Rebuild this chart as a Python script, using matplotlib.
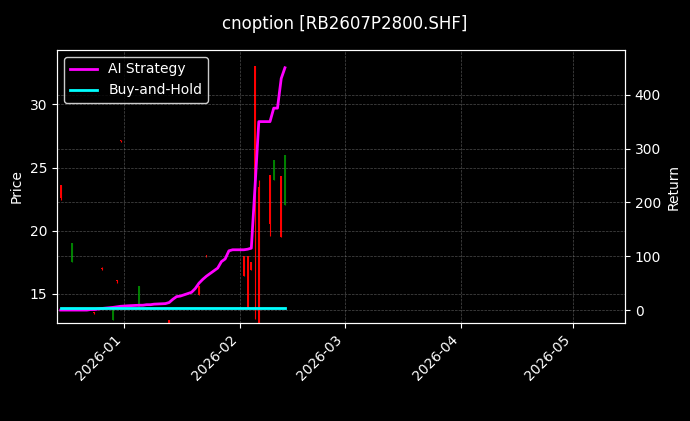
import matplotlib
matplotlib.use("Agg")
import matplotlib.pyplot as plt
import matplotlib.dates as mdates
from matplotlib.ticker import MultipleLocator
import numpy as np
import pandas as pd

ret_dates = ["2025-12-15","2025-12-16","2025-12-17","2025-12-18","2025-12-19","2025-12-22","2025-12-23","2025-12-24","2025-12-25","2025-12-26",
             "2025-12-29","2025-12-30","2025-12-31","2026-01-02","2026-01-05","2026-01-06","2026-01-07","2026-01-08","2026-01-09","2026-01-12",
             "2026-01-13","2026-01-14","2026-01-15","2026-01-16","2026-01-19","2026-01-20","2026-01-21","2026-01-22","2026-01-23","2026-01-26",
             "2026-01-27","2026-01-28","2026-01-29","2026-01-30","2026-02-02","2026-02-03","2026-02-04","2026-02-05","2026-02-06","2026-02-09",
             "2026-02-10","2026-02-11","2026-02-12","2026-02-13"]
ai_ret = [0,0,0,0,0,0,1,1,2,3,5,6,7,8,9,9,10,10,11,12,14,20,25,26,33,40,50,57,63,78,90,95,110,112,112,113,115,230,350,350,375,375,430,450]
bh_ret = [3]*len(ret_dates)

c_dates = ["2025-12-15","2025-12-18","2025-12-24","2025-12-26","2025-12-29","2025-12-30","2025-12-31","2026-01-05","2026-01-13","2026-01-21",
           "2026-01-23","2026-02-02","2026-02-03","2026-02-04","2026-02-05","2026-02-06","2026-02-09","2026-02-10","2026-02-12","2026-02-13"]
c_open  = [23.6,17.5,13.5,17.0,12.9,16.0,27.1,14.0,12.9,15.6,18.0,18.0,18.0,17.5,33.0,23.5,24.4,24.0,24.3,22.0]
c_close = [22.6,19.0,13.5,17.0,14.0,16.0,27.1,15.6,12.3,14.9,18.0,16.4,13.8,16.9,23.0,12.0,20.5,25.6,19.5,26.0]
c_high  = [23.6,19.0,13.6,17.1,14.0,16.1,27.2,15.6,12.9,15.6,18.1,18.0,18.0,17.5,33.0,24.0,24.4,25.6,24.3,26.0]
c_low   = [22.4,17.5,13.4,16.9,12.9,15.9,27.0,14.0,12.3,14.9,17.9,16.4,13.8,16.9,13.0,11.9,19.6,24.0,19.5,22.0]

plt.rcParams['font.family'] = ['DejaVu Sans']
fig = plt.figure(figsize=(6.9, 4.21), dpi=100, facecolor='black')
ax = fig.add_axes([57/690, 1-323/421, (625-57)/690, (323-50)/421], facecolor='black')
cd = pd.to_datetime(c_dates)
for d, o, c, h, l in zip(cd, c_open, c_close, c_high, c_low):
    col = 'green' if c > o else 'red'
    ax.vlines(d, l, h, color=col, linewidth=0.8)
    ax.bar(d, max(abs(c-o), 0.08), bottom=min(o, c), width=0.5, color=col)
ax.set_ylim(12.7, 34.3)
ax.yaxis.set_major_locator(MultipleLocator(5))
ax.set_xlim(pd.Timestamp("2025-12-14"), pd.Timestamp("2026-05-15"))
ax.set_ylabel("Price", color='white')
ax.grid(True, color='gray', linestyle='--', linewidth=0.5, alpha=0.6)
ax.xaxis.set_major_locator(mdates.MonthLocator())
ax.xaxis.set_major_formatter(mdates.DateFormatter('%Y-%m'))
for s in ax.spines.values(): s.set_color('white')
ax.tick_params(colors='white')
plt.setp(ax.get_xticklabels(), rotation=45, ha='right')

ax2 = ax.twinx()
rd = pd.to_datetime(ret_dates)
l1, = ax2.plot(rd, ai_ret, color='magenta', linewidth=2, label='AI Strategy')
l2, = ax2.plot(rd, bh_ret, color='cyan', linewidth=2, label='Buy-and-Hold')
ax2.set_ylim(-24, 483)
ax2.set_ylabel("Return", color='white')
ax2.tick_params(colors='white')
ax2.grid(True, axis='y', color='gray', linestyle='--', linewidth=0.5, alpha=0.6)
for s in ax2.spines.values(): s.set_color('white')
leg = ax2.legend(handles=[l1, l2], loc='upper left', facecolor='black', edgecolor='white')
for t in leg.get_texts(): t.set_color('white')
fig.suptitle("cnoption [RB2607P2800.SHF]", color='white', y=0.965)
fig.savefig("out.png", dpi=100, facecolor='black')
